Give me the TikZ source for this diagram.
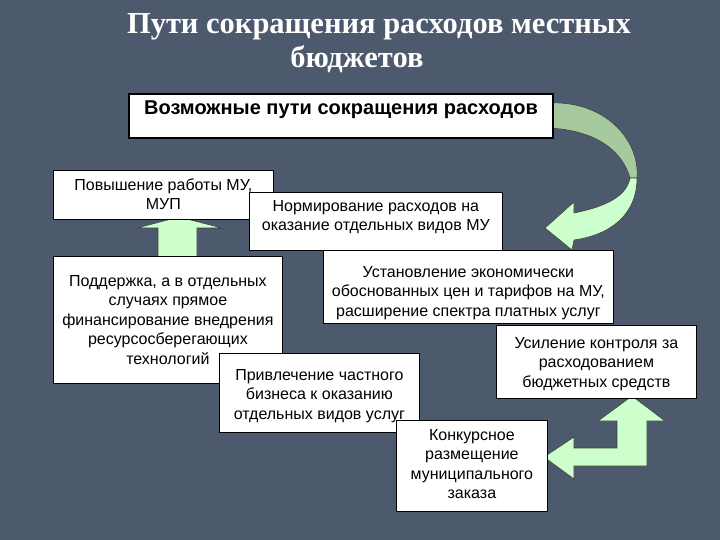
\documentclass[tikz,border=0pt]{standalone}
\usepackage{fontspec}
\setmainfont{Liberation Sans}
\newfontfamily\headfont{Liberation Serif}
\definecolor{slate}{RGB}{77,89,108}
\definecolor{mint}{RGB}{204,255,204}
\definecolor{sage}{RGB}{166,201,160}

\begin{document}
\begin{tikzpicture}[x=1pt,y=-1pt,
  box/.style={draw=black, fill=white, line width=0.8pt, anchor=north west,
    inner xsep=0pt, inner ysep=0pt, align=center,
    font=\fontsize{16}{19.5}\selectfont},
  head/.style={anchor=base, text=white, font=\headfont\bfseries\fontsize{30.5}{34}\selectfont},
  blockarrow/.style={fill=mint, draw=black!75, line width=0.6pt}]
\fill[slate] (0,0) rectangle (720,540);
\useasboundingbox (0,0) rectangle (720,540);

\node[head] (t1) at (379,34) {Пути сокращения расходов местных};
\node[head] (t2) at (357,68) {бюджетов};

\draw[fill=sage, draw=black!75, line width=0.6pt] (548,103) .. controls (605,100) and (640,140) .. (637,178)
  -- (630,178) .. controls (622,150) and (595,130) .. (548,128) -- cycle;
\draw[blockarrow] (637,178) .. controls (637,215) and (610,235) .. (574,240) -- (572,250) -- (545,228)
  -- (574,202) -- (574,213) .. controls (603,207) and (626,198) .. (630,178) -- cycle;

\draw[blockarrow] (158,260) -- (158,228) -- (137,228) -- (179,217) -- (222,228) -- (197,228) -- (197,260) -- cycle;

\draw[blockarrow] (544,457) -- (574,437) -- (574,448) -- (617,448) -- (617,421) -- (598,421) -- (632,396)
  -- (665,421) -- (647,421) -- (647,466) -- (574,466) -- (574,479) -- cycle;

\node[box, minimum width=220pt, text height=39.5pt, text depth=9.5pt] (rab) at (53,170)
  {Повышение работы МУ,\\МУП};
\node[box, minimum width=253pt, text height=38.5pt, text depth=19.5pt] (norm) at (249,192)
  {Нормирование расходов на\\оказание отдельных видов МУ};
\node[box, minimum width=290pt, text height=66pt, text depth=7pt] (tarif) at (323,250)
  {Установление экономически\\обоснованных цен и тарифов на МУ,\\расширение спектра платных услуг};
\node[box, minimum width=229pt, text height=108pt, text depth=19pt] (podd) at (53,256)
  {Поддержка, а в отдельных\\случаях прямое\\финансирование внедрения\\ресурсосберегающих\\технологий};
\node[box, minimum width=200pt, text height=62pt, text depth=11pt] (kontr) at (496,325)
  {Усиление контроля за\\расходованием\\бюджетных средств};
\node[box, minimum width=200pt, text height=66pt, text depth=13pt] (biz) at (219,353)
  {Привлечение частного\\бизнеса к оказанию\\отдельных видов услуг};
\node[box, minimum width=151pt, text height=78.5pt, text depth=12.5pt] (konk) at (396,420)
  {Конкурсное\\размещение\\муниципального\\заказа};
\node[box, line width=2pt, minimum width=424pt, text height=21pt, text depth=23pt,
  font=\bfseries\fontsize{20}{24}\selectfont] (puti) at (128,93)
  {Возможные пути сокращения расходов};
\end{tikzpicture}
\end{document}
